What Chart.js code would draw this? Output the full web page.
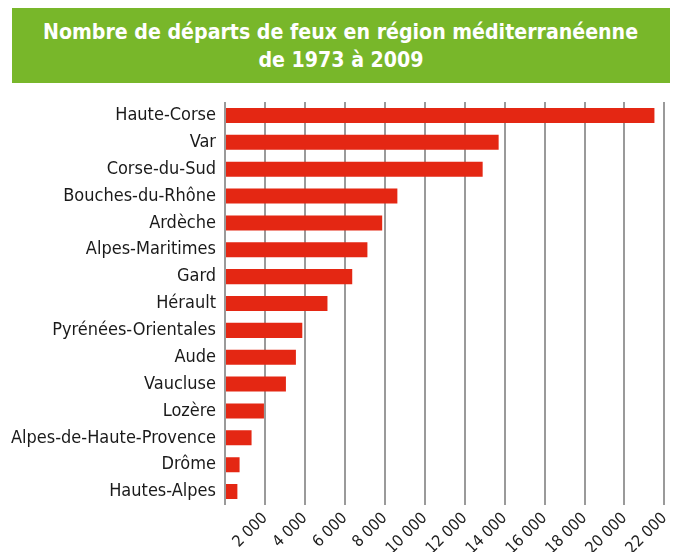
<!DOCTYPE html>
<html>
<head>
<meta charset="utf-8">
<script src="https://cdn.jsdelivr.net/npm/chart.js@4"></script>
<style>
  body { margin: 0; background: #fff; }
  #wrap { position: relative; width: 682px; height: 552px; }
  #titre {
    position: absolute; left: 12px; top: 8px; width: 658px; height: 75px;
    background: #78b72a; color: #fff;
    font-family: "DejaVu Sans Condensed", sans-serif;
    font-weight: bold; font-size: 21px; line-height: 28.4px;
  }
  #titre div { position: absolute; left: 0; width: 100%; text-align: center; white-space: nowrap; }
  #titre span { display: inline-block; transform-origin: center; }
  canvas { position: absolute; left: 0; top: 0; }
</style>
</head>
<body>
<div id="wrap">
  <div id="titre">
    <div style="top:10px"><span id="l1">Nombre de départs de feux en région méditerranéenne</span></div>
    <div style="top:38.4px"><span id="l2">de 1973 à 2009</span></div>
  </div>
  <canvas id="graf" width="682" height="552"></canvas>
</div>
<script>
// départements, du plus grand au plus petit
const departements = ['Haute-Corse', 'Var', 'Corse-du-Sud', 'Bouches-du-Rhône', 'Ardèche',
  'Alpes-Maritimes', 'Gard', 'Hérault', 'Pyrénées-Orientales', 'Aude', 'Vaucluse',
  'Lozère', 'Alpes-de-Haute-Provence', 'Drôme', 'Hautes-Alpes'];
const departs = [21500, 13700, 12900, 8630, 7870, 7130, 6370, 5130, 3870, 3550, 3050, 1950, 1330, 730, 620];
const graduations = ['', '2 000', '4 000', '6 000', '8 000', '10 000', '12 000', '14 000',
  '16 000', '18 000', '20 000', '22 000'];

// le titre est plus étroit dans l'original : on le resserre
let l1 = document.getElementById('l1');
let l2 = document.getElementById('l2');
let serre = 595 / l1.getBoundingClientRect().width;
l1.style.transform = 'scaleX(' + serre + ')';
l2.style.transform = 'scaleX(' + serre + ')';

const police = '"DejaVu Sans Condensed", sans-serif';

const ctx = document.getElementById('graf').getContext('2d');
new Chart(ctx, {
  type: 'bar',
  data: {
    labels: departements,
    datasets: [{
      data: departs,
      backgroundColor: '#e42713',
      borderWidth: 0,
      categoryPercentage: 0.56,
      barPercentage: 1
    }]
  },
  options: {
    indexAxis: 'y',
    responsive: false,
    animation: false,
    layout: { padding: { top: 102, right: 17, left: 0, bottom: 0 } },
    plugins: { legend: { display: false }, tooltip: { enabled: false } },
    scales: {
      x: {
        min: 0,
        max: 22000,
        afterFit: (s) => { s.height = 47; },
        grid: { color: '#9a9a9a', lineWidth: 2, drawTicks: false },
        border: { display: false },
        ticks: {
          stepSize: 2000,
          autoSkip: false,
          minRotation: 45,
          maxRotation: 45,
          padding: 4,
          color: '#222',
          font: { family: police, size: 16 },
          callback: (v, i) => graduations[i]
        }
      },
      y: {
        afterFit: (s) => { s.width = 225; },
        grid: { display: false, drawTicks: false },
        border: { display: false },
        ticks: {
          padding: 9,
          color: '#1a1a1a',
          font: { family: police, size: 18 }
        }
      }
    }
  }
});
</script>
</body>
</html>
